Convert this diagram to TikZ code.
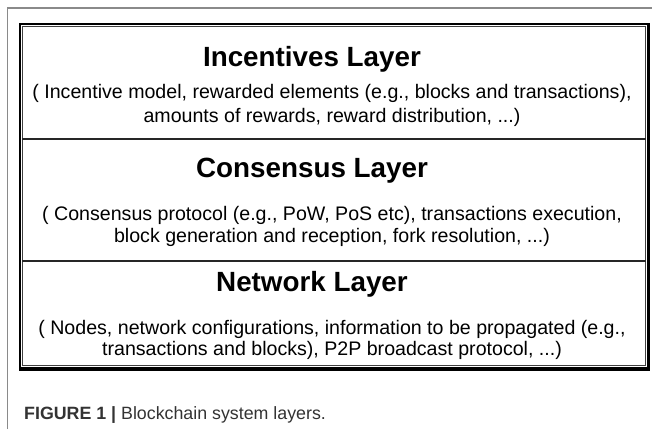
\documentclass[tikz,border=0pt]{standalone}
\usepackage{fontspec}
\setmainfont{Liberation Sans}
\definecolor{framegray}{HTML}{8A8A8A}
\definecolor{capgray}{HTML}{333333}
\begin{document}
\begin{tikzpicture}[x=1pt,y=-1pt,
  title/.style={anchor=base,inner sep=0pt,font=\fontsize{27.8}{32}\selectfont\bfseries},
  body/.style={anchor=base,inner sep=0pt,font=\fontsize{19.6}{23}\selectfont},
  divider/.style={line width=1.8pt,black!85}]
\useasboundingbox (0,0) rectangle (652,429);
% page frame
\draw[framegray,line width=1.6pt] (7.5,429) -- (7.5,8) -- (652,8);
% layer box
\draw[black,line width=2.4pt] (20.2,24.2) rectangle (648,368);
\draw[black,line width=3.4pt] (648.2,23) -- (648.2,369.7) -- (19,369.7);
\draw[black!75,line width=0.9pt] (22.6,26.6) rectangle (645.4,365.6);
\draw[divider] (22,139) -- (646,139);
\draw[divider] (22,261) -- (646,261);
% Incentives
\node[title] (t1) at (312,66) {Incentives Layer};
\node[body] (b11) at (332,98) {( Incentive model, rewarded elements (e.g., blocks and transactions),};
\node[body] (b12) at (332,122) {amounts of rewards, reward distribution, ...)};
% Consensus
\node[title] (t2) at (312,177) {Consensus Layer};
\node[body] (b21) at (332,220) {( Consensus protocol (e.g., PoW, PoS etc), transactions execution,};
\node[body] (b22) at (332,242) {block generation and reception, fork resolution, ...)};
% Network
\node[title] (t3) at (312,291) {Network Layer};
\node[body] (b31) at (332,334) {( Nodes, network configurations, information to be propagated (e.g.,};
\node[body] (b32) at (332,355) {transactions and blocks), P2P broadcast protocol, ...)};
% caption
\node[anchor=base west,inner sep=0pt,text=capgray,font=\fontsize{17.8}{21}\selectfont] (cap) at (24,419) {\textbf{FIGURE 1 |} Blockchain system layers.};
\end{tikzpicture}
\end{document}
